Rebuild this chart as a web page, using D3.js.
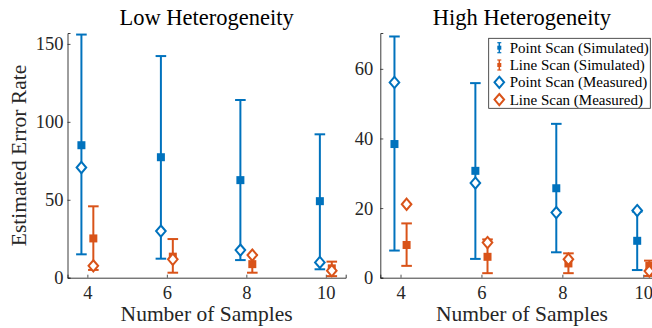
<!DOCTYPE html>
<html>
<head>
<meta charset="utf-8">
<script src="https://cdn.jsdelivr.net/npm/d3@7"></script>
<style>
  html, body { margin: 0; padding: 0; background: #fff; }
  svg { display: block; font-family: "Liberation Serif", "Times New Roman", serif; }
</style>
</head>
<body>
<svg id="chart" width="652" height="328"></svg>
<script>
const samples = [4, 6, 8, 10]
const xTicks = [4, 6, 8, 10]

// Low heterogeneity
const lowPointSimMean = [85, 77.3, 62.6, 49.1]
const lowPointSimLo = [15, 12.2, 11.3, 5.4]
const lowPointSimHi = [156, 142.2, 114, 92]
const lowLineSimMean = [25.2, 13.5, 8.7, 6]
const lowLineSimLo = [5, 3.2, 3.2, 1]
const lowLineSimHi = [45.8, 24.8, 14.5, 10.3]
const lowPointMeas = [70.7, 29.9, 17.7, 9.8]
const lowLineMeas = [7.6, 11.8, 14.5, 4.5]
const lowYTicks = [0, 50, 100, 150]

// High heterogeneity
const highPointSimMean = [38.4, 30.7, 25.7, 10.6]
const highPointSimLo = [7.8, 5.4, 7.3, 2.2]
const highPointSimHi = [69.3, 55.9, 44.2, 19]
const highLineSimMean = [9.4, 6.0, 4.1, 3.4]
const highLineSimLo = [3.4, 1.3, 1.3, 0.5]
const highLineSimHi = [15.6, 11, 7.0, 4.9]
const highPointMeas = [56.1, 27.2, 18.7, 19.3]
const highLineMeas = [21.1, 10.1, 5.3, 1.9]
const highYTicks = [0, 20, 40, 60]

const legendLabels = [
  "Point Scan (Simulated)",
  "Line Scan (Simulated)",
  "Point Scan (Measured)",
  "Line Scan (Measured)"
]

const blue = "#0072BD"
const orange = "#D95319"
const axisColor = "#262626"
const offset = 0.15

const svg = d3.select("#chart")

const zip = (m, lo, hi) => samples.map((s, i) => ({ x: s, m: m[i], lo: lo[i], hi: hi[i] }))

const drawPanel = (cfg) => {
  const x = d3.scaleLinear().domain([3.5, 10.5]).range([cfg.left, cfg.right])
  const y = d3.scaleLinear().domain([0, cfg.ymax]).range([277.7, 33])
  const g = svg.append("g")

  // axes
  const xAxis = d3.axisBottom(x).tickValues(xTicks).tickFormat(d3.format("d")).tickSize(-3).tickPadding(8)
  const yAxis = d3.axisLeft(y).tickValues(cfg.yTicks).tickFormat(d3.format("d")).tickSize(-3).tickPadding(cfg.pad)
  const gx = g.append("g").attr("transform", `translate(0,${y(0)})`).call(xAxis)
  const gy = g.append("g").attr("transform", `translate(${x(3.5)},0)`).call(yAxis)
  ;[gx, gy].forEach(a => {
    a.attr("font-family", "Liberation Serif").attr("font-size", 18.5)
    a.select(".domain").attr("stroke", axisColor).attr("stroke-width", 0.9)
    a.selectAll(".tick line").attr("stroke", axisColor).attr("stroke-width", 0.8)
    a.selectAll(".tick text").attr("fill", axisColor)
  })
  gx.selectAll(".tick text").attr("dy", "0.71em")

  const errbar = (data, dx, color) => {
    const eg = g.append("g").attr("stroke", color).attr("stroke-width", 2).attr("fill", color)
    const cap = 5.3
    eg.selectAll("line.v").data(data).join("line")
      .attr("x1", d => x(d.x + dx)).attr("x2", d => x(d.x + dx))
      .attr("y1", d => y(d.lo)).attr("y2", d => y(d.hi))
    eg.selectAll("line.t").data(data).join("line")
      .attr("x1", d => x(d.x + dx) - cap).attr("x2", d => x(d.x + dx) + cap)
      .attr("y1", d => y(d.hi)).attr("y2", d => y(d.hi))
    eg.selectAll("line.b").data(data).join("line")
      .attr("x1", d => x(d.x + dx) - cap).attr("x2", d => x(d.x + dx) + cap)
      .attr("y1", d => y(d.lo)).attr("y2", d => y(d.lo))
    eg.selectAll("rect").data(data).join("rect")
      .attr("stroke", "none")
      .attr("x", d => x(d.x + dx) - 4).attr("y", d => y(d.m) - 4)
      .attr("width", 8).attr("height", 8)
  }

  const diamonds = (vals, dx, color) => {
    g.append("g").selectAll("path").data(samples.map((s, i) => ({ x: s, v: vals[i] }))).join("path")
      .attr("d", "M0,-5.6L4.8,0L0,5.6L-4.8,0Z")
      .attr("transform", d => `translate(${x(d.x + dx)},${y(d.v)})`)
      .attr("fill", "#fff").attr("stroke", color).attr("stroke-width", 2)
  }

  errbar(zip(cfg.pSim, cfg.pLo, cfg.pHi), -offset, blue)
  errbar(zip(cfg.lSim, cfg.lLo, cfg.lHi), offset, orange)
  diamonds(cfg.pMeas, -offset, blue)
  diamonds(cfg.lMeas, offset, orange)

  // labels
  g.append("text").attr("x", (cfg.left + cfg.right) / 2).attr("y", 25)
    .attr("text-anchor", "middle").attr("font-size", 22.5).attr("fill", "#000")
    .text(cfg.title)
  g.append("text").attr("x", (cfg.left + cfg.right) / 2).attr("y", 321)
    .attr("text-anchor", "middle").attr("font-size", 21.5).attr("fill", axisColor)
    .text("Number of Samples")
}

drawPanel({
  left: 67.5, right: 345.7, ymax: 157, yTicks: lowYTicks, pad: 4,
  title: "Low Heterogeneity",
  pSim: lowPointSimMean, pLo: lowPointSimLo, pHi: lowPointSimHi,
  lSim: lowLineSimMean, lLo: lowLineSimLo, lHi: lowLineSimHi,
  pMeas: lowPointMeas, lMeas: lowLineMeas
})

drawPanel({
  left: 380.3, right: 663.5, ymax: 70.3, yTicks: highYTicks, pad: 7,
  title: "High Heterogeneity",
  pSim: highPointSimMean, pLo: highPointSimLo, pHi: highPointSimHi,
  lSim: highLineSimMean, lLo: highLineSimLo, lHi: highLineSimHi,
  pMeas: highPointMeas, lMeas: highLineMeas
})

// y label (left panel only)
svg.append("text")
  .attr("transform", "translate(26,155.5) rotate(-90)")
  .attr("text-anchor", "middle").attr("font-size", 21.5).attr("fill", axisColor)
  .text("Estimated Error Rate")

// legend
const legend = svg.append("g").attr("transform", "translate(488.7,38.3)")
legend.append("rect").attr("width", 161.6).attr("height", 70)
  .attr("fill", "#fff").attr("stroke", axisColor).attr("stroke-width", 0.8)
const colors = [blue, orange, blue, orange]
legendLabels.forEach((lab, i) => {
  const cy = 9.4 + i * 17.3
  const item = legend.append("g").attr("transform", `translate(10.6,${cy})`)
  if (i < 2) {
    item.append("line").attr("x1", 0).attr("x2", 0).attr("y1", -5).attr("y2", 5)
      .attr("stroke", colors[i]).attr("stroke-width", 1.5)
    item.append("line").attr("x1", -2).attr("x2", 2).attr("y1", -5).attr("y2", -5)
      .attr("stroke", colors[i]).attr("stroke-width", 1.2)
    item.append("line").attr("x1", -2).attr("x2", 2).attr("y1", 5).attr("y2", 5)
      .attr("stroke", colors[i]).attr("stroke-width", 1.2)
    item.append("rect").attr("x", -2).attr("y", -2).attr("width", 4).attr("height", 4)
      .attr("fill", colors[i])
  } else {
    item.append("path").attr("d", "M0,-5.6L4.8,0L0,5.6L-4.8,0Z")
      .attr("fill", "#fff").attr("stroke", colors[i]).attr("stroke-width", 2)
  }
  legend.append("text").attr("x", 21).attr("y", cy).attr("dy", "0.33em")
    .attr("font-size", 15).attr("fill", "#000").text(lab)
})
</script>
</body>
</html>
